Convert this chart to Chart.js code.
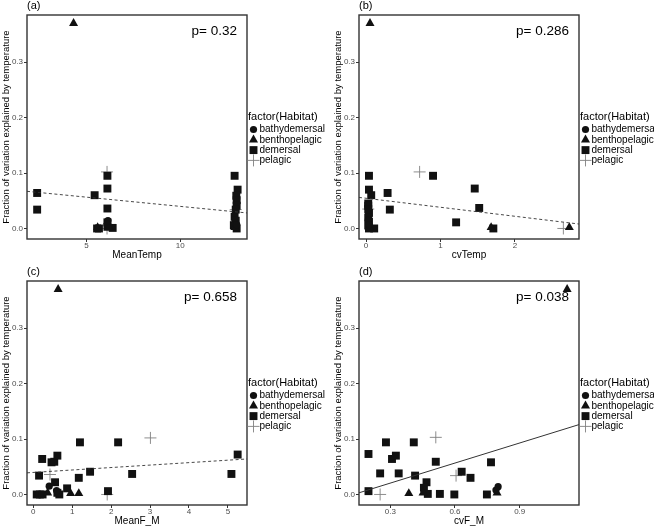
<!DOCTYPE html>
<html>
<head>
<meta charset="utf-8">
<script src="https://cdn.jsdelivr.net/npm/chart.js@4.4.1/dist/chart.umd.min.js"></script>
<style>
  html, body { margin: 0; padding: 0; background: #fff; overflow: hidden; width: 654px; height: 526px; }
  canvas { position: absolute; }
</style>
</head>
<body>
<canvas id="pa" width="327" height="263" style="left:0;top:0"></canvas>
<canvas id="pb" width="322" height="263" style="left:332px;top:0"></canvas>
<canvas id="pc" width="327" height="263" style="left:0;top:266px"></canvas>
<canvas id="pd" width="322" height="263" style="left:332px;top:266px"></canvas>
<script>
/* ── data: [x, y] per species, grouped by habitat ── */

// (a) MeanTemp
const aBathy   = [[6.15, 0.014], [13.0, 0.007]];
const aBentho  = [[4.32, 0.370], [5.6, 0.002], [6.2, 0.002], [12.9, 0.002]];
const aDemers  = [[2.38, 0.064], [2.38, 0.034], [5.44, 0.060], [5.57, 0.0], [5.67, 0.0],
                  [6.12, 0.095], [6.12, 0.072], [6.12, 0.036], [6.12, 0.011], [6.12, 0.003],
                  [6.40, 0.001], [12.89, 0.095], [13.05, 0.070], [12.98, 0.059], [13.0, 0.051],
                  [13.0, 0.041], [12.95, 0.034], [12.89, 0.021], [12.95, 0.014], [12.85, 0.006], [13.0, 0.0]];
const aPelag   = [[6.1, 0.102], [6.1, 0.0], [12.95, 0.034]];
const aFitX    = [1.84, 13.55];
const aFitY    = [0.067, 0.028];

// (b) cvTemp
const bBathy   = [[0.03, 0.015], [0.04, 0.007]];
const bBentho  = [[0.054, 0.370], [1.68, 0.002], [2.73, 0.002], [0.04, 0.002]];
const bDemers  = [[0.04, 0.095], [0.04, 0.070], [0.07, 0.060], [0.03, 0.045], [0.03, 0.041],
                  [0.03, 0.035], [0.04, 0.028], [0.03, 0.020], [0.04, 0.012], [0.03, 0.006],
                  [0.04, 0.0], [0.11, 0.0], [0.29, 0.064], [0.32, 0.034], [0.90, 0.095],
                  [1.46, 0.072], [1.52, 0.037], [1.21, 0.011], [1.71, 0.0]];
const bPelag   = [[0.72, 0.102], [2.65, 0.0], [0.03, 0.035]];
const bFitX    = [-0.094, 2.86];
const bFitY    = [0.056, 0.008];

// (c) MeanF_M
const cBathy   = [[0.41, 0.015], [0.60, 0.007]];
const cBentho  = [[0.64, 0.370], [0.37, 0.003], [0.96, 0.002], [1.17, 0.002]];
const cDemers  = [[0.23, 0.064], [0.15, 0.034], [0.47, 0.058], [0.54, 0.059], [0.62, 0.070],
                  [1.20, 0.094], [2.18, 0.094], [1.46, 0.041], [1.17, 0.030], [2.54, 0.037],
                  [5.09, 0.037], [5.25, 0.072], [1.92, 0.006], [0.87, 0.011], [0.56, 0.022],
                  [0.09, 0.0], [0.17, 0.0], [0.24, 0.0], [0.67, 0.0], [0.62, 0.003]];
const cPelag   = [[3.01, 0.102], [0.43, 0.036], [1.90, 0.0]];
const cFitX    = [-0.16, 5.49];
const cFitY    = [0.039, 0.064];

// (d) cvF_M
const dBathy   = [[0.80, 0.014], [0.79, 0.008]];
const dBentho  = [[1.12, 0.370], [0.386, 0.002], [0.452, 0.003], [0.795, 0.003]];
const dDemers  = [[0.199, 0.073], [0.28, 0.094], [0.308, 0.064], [0.326, 0.070], [0.253, 0.038],
                  [0.339, 0.038], [0.409, 0.094], [0.415, 0.034], [0.511, 0.059], [0.631, 0.041],
                  [0.672, 0.030], [0.767, 0.058], [0.468, 0.022], [0.456, 0.012], [0.474, 0.001],
                  [0.530, 0.001], [0.597, 0.0], [0.748, 0.0], [0.199, 0.006]];
const dPelag   = [[0.511, 0.103], [0.253, 0.0], [0.605, 0.034]];
const dFitX    = [0.155, 1.175];
const dFitY    = [0.003, 0.126];

const habitats = ['bathydemersal', 'benthopelagic', 'demersal', 'pelagic'];
const yRange   = [-0.019, 0.385];

/* ── look ── */
const FONT = '"Liberation Sans", Arial, Helvetica, sans-serif';
const marker = {
  bathydemersal: { pointStyle: 'circle',   radius: 3.6, fill: '#111', line: '#111', bw: 0 },
  benthopelagic: { pointStyle: 'triangle', radius: 5.2, fill: '#111', line: '#111', bw: 0 },
  demersal:      { pointStyle: 'rect',     radius: 5.6, fill: '#111', line: '#111', bw: 0 },
  pelagic:       { pointStyle: 'cross',    radius: 6,   fill: '#808080', line: '#808080', bw: 0.9 },
};

// panel box, tag, p value and the habitat legend
const decor = {
  id: 'decor',
  afterDraw(chart, args, o) {
    const { ctx, chartArea: ca } = chart;
    ctx.save();
    ctx.strokeStyle = '#333';
    ctx.lineWidth = 1.4;
    ctx.strokeRect(ca.left, ca.top, ca.right - ca.left, ca.bottom - ca.top);

    ctx.fillStyle = '#000';
    ctx.textBaseline = 'middle';
    ctx.textAlign = 'left';
    ctx.font = `11px ${FONT}`;
    ctx.fillText(o.tag, ca.left, 6);

    ctx.textAlign = 'right';
    ctx.font = `13.5px ${FONT}`;
    ctx.fillText(o.p, ca.right - 10, ca.top + 16);

    // legend
    const lx = ca.right + 1;
    ctx.textAlign = 'left';
    ctx.font = `11px ${FONT}`;
    ctx.fillText('factor(Habitat)', lx, 117);
    ctx.font = `10px ${FONT}`;
    habitats.forEach((h, i) => {
      const m = marker[h];
      const y = 129.5 + i * 10.3;
      ctx.fillStyle = m.fill;
      ctx.strokeStyle = m.line;
      ctx.lineWidth = m.bw;
      Chart.helpers.drawPoint(ctx, { pointStyle: m.pointStyle, radius: m.radius, rotation: 0, borderWidth: m.bw }, lx + 5.5, y);
      ctx.fillStyle = '#000';
      ctx.fillText(h, lx + 11.5, y);
    });
    ctx.restore();
  }
};

function axisX(title, min, max, step, dec) {
  return {
    type: 'linear', min, max,
    afterFit: s => { s.height = 24; },
    border: { display: false },
    grid: { drawOnChartArea: false, drawTicks: true, tickLength: 3, tickColor: '#333' },
    ticks: {
      stepSize: step, includeBounds: false, autoSkip: false, maxRotation: 0, padding: -1,
      color: '#4d4d4d', font: { family: FONT, size: 8 },
      callback: v => dec ? v.toFixed(dec) : String(v)
    },
    title: { display: true, text: title, color: '#000', font: { family: FONT, size: 10 }, padding: { top: 0, bottom: 2 } }
  };
}

function axisY() {
  return {
    type: 'linear', min: yRange[0], max: yRange[1],
    afterFit: s => { s.width = 27; },
    border: { display: false },
    grid: { drawOnChartArea: false, drawTicks: true, tickLength: 3, tickColor: '#333' },
    ticks: {
      stepSize: 0.1, includeBounds: false, autoSkip: false, padding: 1,
      color: '#4d4d4d', font: { family: FONT, size: 8 },
      callback: v => v.toFixed(1)
    },
    title: {
      display: true, text: 'Fraction of variation explained by temperature', color: '#000',
      font: { family: FONT, size: 9.5 }, padding: { top: 1, bottom: 0 }
    }
  };
}

function pts(list) { return list.map(([x, y]) => ({ x, y })); }

function drawPanel(id, groups, fitX, fitY, dashed, xTitle, xMin, xMax, step, dec, tag, p, padRight) {
  const datasets = [{
    type: 'line',
    data: fitX.map((x, i) => ({ x, y: fitY[i] })),
    borderColor: '#333', borderWidth: dashed ? 0.9 : 1, borderDash: dashed ? [3, 2.5] : [],
    pointRadius: 0, fill: false, clip: false
  }];
  habitats.forEach((h, i) => {
    const m = marker[h];
    datasets.push({
      type: 'scatter', label: h, data: pts(groups[i]),
      pointStyle: m.pointStyle, pointRadius: m.radius,
      backgroundColor: m.fill, borderColor: m.line, borderWidth: m.bw, clip: false
    });
  });

  new Chart(document.getElementById(id), {
    type: 'scatter',
    data: { datasets },
    options: {
      responsive: false, animation: false, devicePixelRatio: 1,
      layout: { padding: { top: 15, right: padRight, left: 0, bottom: 0 } },
      plugins: { legend: { display: false }, tooltip: { enabled: false }, decor: { tag, p } },
      scales: { x: axisX(xTitle, xMin, xMax, step, dec), y: axisY() }
    },
    plugins: [decor]
  });
}

drawPanel('pa', [aBathy, aBentho, aDemers, aPelag], aFitX, aFitY, true,  'MeanTemp', 1.84, 13.55, 5, 0,   '(a)', 'p= 0.32',  80);
drawPanel('pb', [bBathy, bBentho, bDemers, bPelag], bFitX, bFitY, true,  'cvTemp',  -0.094, 2.86, 1, 0,   '(b)', 'p= 0.286', 75);
drawPanel('pc', [cBathy, cBentho, cDemers, cPelag], cFitX, cFitY, true,  'MeanF_M', -0.16, 5.49,  1, 0,   '(c)', 'p= 0.658', 80);
drawPanel('pd', [dBathy, dBentho, dDemers, dPelag], dFitX, dFitY, false, 'cvF_M',    0.155, 1.175, 0.3, 1, '(d)', 'p= 0.038', 75);
</script>
</body>
</html>
